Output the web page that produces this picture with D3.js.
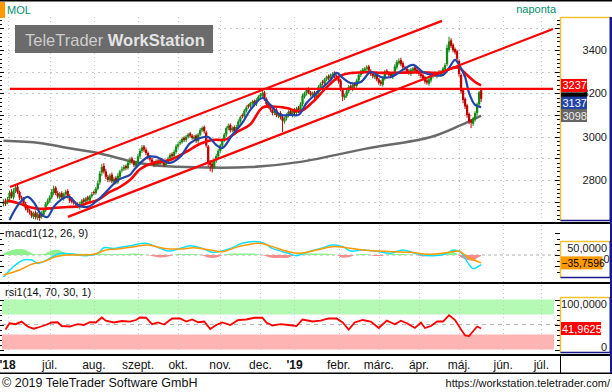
<!DOCTYPE html>
<html><head><meta charset="utf-8"><title>MOL</title>
<script src="https://cdn.jsdelivr.net/npm/d3@7/dist/d3.min.js"></script>
<style>html,body{margin:0;padding:0;background:#fff;}svg{display:block;font-family:"Liberation Sans",Arial,Helvetica,sans-serif;}</style>
</head><body>
<svg id="chart" width="612" height="392"></svg>
<script>
// ---------------- DATA ----------------
const symbol = "MOL";
const period = "naponta";
const holidays = ["2018-08-20","2018-10-22","2018-10-23","2018-11-01","2018-11-02","2018-12-24","2018-12-25","2018-12-26","2018-12-31","2019-01-01","2019-03-15","2019-04-19","2019-04-22","2019-05-01","2019-06-10"];
const tickLabels = ["'18","júl.","aug.","szept.","okt.","nov.","dec.","'19","febr.","márc.","ápr.","máj.","jún.","júl."];
const priceLabels = [2800,3000,3200,3400];
const gridPrices = [2700,2800,2900,3000,3100,3200,3300,3400,3500];

const open = [
2690,2705,2695,2715,2745,2720,2750,2770,2745,2720,
2715,2690,2675,2660,2650,2630,2650,2625,2645,2630,
2640,2660,2690,2705,2720,2740,2765,2740,2720,2740,
2715,2735,2750,2725,2710,2700,2695,2690,2675,2690,
2710,2700,2720,2705,2725,2745,2740,2760,2790,2835,
2865,2840,2815,2800,2825,2790,2810,2790,2815,2845,
2850,2865,2855,2880,2900,2885,2865,2880,2910,2935,
2955,2940,2925,2905,2895,2880,2870,2890,2875,2895,
2880,2870,2885,2900,2920,2910,2930,2955,2970,2975,
2995,2985,3000,3015,3005,2990,3005,2980,3010,3030,
3045,3020,2955,2885,2875,2860,2890,2910,2935,2960,
2985,3010,3040,3055,3030,3045,3025,3045,3070,3100,
3095,3120,3145,3140,3155,3165,3150,3170,3185,3190,
3205,3175,3155,3140,3125,3110,3125,3095,3110,3090,
3070,3085,3100,3120,3100,3125,3110,3135,3120,3150,
3185,3200,3220,3205,3190,3205,3180,3205,3230,3255,
3245,3265,3280,3265,3285,3295,3280,3270,3260,3215,
3180,3190,3210,3235,3220,3245,3235,3260,3285,3300,
3305,3315,3325,3305,3290,3275,3285,3265,3255,3240,
3270,3305,3295,3290,3275,3290,3320,3340,3355,3340,
3320,3315,3305,3290,3305,3320,3310,3300,3290,3285,
3275,3260,3245,3260,3280,3295,3280,3300,3285,3295,
3310,3335,3400,3445,3425,3405,3395,3350,3285,3215,
3175,3145,3105,3075,3060,3080,3110,3150,3215];
const high = [
2712,2715,2722,2752,2758,2762,2780,2778,2752,2728,
2722,2700,2684,2668,2658,2655,2660,2652,2652,2656,
2668,2698,2715,2730,2758,2775,2772,2750,2745,2748,
2742,2755,2758,2735,2718,2708,2702,2698,2700,2712,
2718,2722,2728,2732,2745,2752,2768,2798,2842,2875,
2878,2852,2825,2830,2835,2815,2818,2832,2848,2862,
2870,2872,2888,2905,2908,2892,2888,2920,2945,2962,
2962,2950,2932,2915,2902,2888,2895,2898,2900,2902,
2888,2892,2908,2925,2928,2940,2965,2975,2985,2998,
3002,3008,3018,3022,3012,3008,3012,3018,3040,3048,
3052,3028,2962,2892,2885,2898,2920,2945,2968,2995,
3018,3048,3060,3062,3048,3052,3055,3080,3098,3108,
3128,3145,3152,3162,3170,3172,3178,3192,3202,3212,
3212,3182,3162,3148,3132,3128,3132,3112,3118,3098,
3092,3108,3122,3128,3128,3132,3138,3142,3160,3198,
3208,3225,3228,3212,3208,3212,3212,3238,3252,3262,
3272,3282,3288,3292,3298,3302,3288,3278,3268,3222,
3198,3218,3238,3242,3248,3252,3268,3292,3308,3318,
3322,3330,3332,3312,3298,3292,3292,3272,3262,3278,
3308,3312,3302,3298,3298,3335,3355,3362,3365,3348,
3328,3322,3312,3318,3322,3328,3318,3308,3298,3292,
3282,3268,3272,3288,3298,3302,3302,3308,3308,3322,
3340,3425,3462,3455,3432,3412,3402,3358,3292,3222,
3182,3152,3112,3082,3092,3118,3158,3212,3222];
const low = [
2678,2680,2688,2705,2715,2710,2740,2735,2708,2702,
2680,2660,2650,2640,2625,2620,2618,2615,2612,2622,
2632,2652,2682,2695,2712,2730,2730,2715,2712,2710,
2705,2728,2715,2695,2692,2686,2680,2670,2665,2682,
2690,2692,2700,2696,2716,2730,2732,2752,2778,2820,
2830,2805,2790,2790,2785,2780,2780,2782,2808,2835,
2842,2845,2848,2870,2875,2860,2856,2872,2900,2925,
2930,2915,2895,2885,2870,2860,2862,2866,2866,2872,
2860,2862,2876,2892,2900,2902,2922,2946,2962,2968,
2976,2976,2992,2996,2986,2982,2972,2972,3002,3022,
3015,2950,2860,2840,2835,2850,2880,2900,2926,2950,
2976,3000,3030,3020,3020,3015,3015,3036,3062,3085,
3086,3112,3130,3132,3146,3140,3142,3162,3176,3182,
3165,3140,3130,3115,3100,3100,3090,3086,3080,3022,
3060,3075,3090,3095,3090,3100,3100,3110,3110,3140,
3176,3190,3196,3186,3180,3176,3170,3196,3220,3236,
3236,3256,3260,3256,3276,3270,3260,3245,3210,3165,
3170,3180,3200,3215,3210,3225,3226,3250,3276,3290,
3296,3305,3296,3280,3270,3266,3256,3240,3235,3232,
3260,3286,3276,3270,3266,3282,3310,3332,3326,3310,
3306,3290,3286,3280,3296,3296,3290,3280,3270,3260,
3245,3240,3236,3250,3270,3276,3270,3280,3276,3286,
3300,3325,3390,3410,3390,3380,3350,3278,3198,3155,
3128,3088,3058,3040,3050,3070,3100,3140,3160];
const close = [
2700,2690,2710,2740,2725,2750,2765,2745,2720,2715,
2690,2670,2660,2650,2635,2645,2630,2640,2625,2645,
2660,2690,2705,2720,2745,2760,2740,2725,2735,2720,
2735,2745,2725,2705,2700,2695,2690,2680,2690,2705,
2700,2715,2710,2725,2735,2740,2760,2785,2830,2860,
2840,2815,2800,2820,2795,2805,2790,2820,2840,2850,
2860,2855,2880,2895,2885,2870,2880,2910,2935,2950,
2940,2925,2905,2895,2880,2870,2885,2875,2890,2880,
2870,2885,2900,2915,2910,2930,2955,2965,2975,2990,
2985,3000,3010,3005,2995,3000,2980,3010,3030,3040,
3025,2960,2880,2870,2860,2890,2910,2935,2960,2985,
3010,3040,3050,3030,3040,3025,3045,3070,3090,3095,
3120,3135,3140,3155,3160,3150,3170,3185,3195,3200,
3175,3150,3140,3125,3110,3120,3100,3105,3090,3075,
3085,3100,3115,3105,3120,3110,3130,3120,3150,3190,
3200,3215,3205,3195,3200,3185,3205,3230,3245,3250,
3265,3275,3270,3285,3290,3280,3270,3255,3220,3185,
3190,3210,3230,3225,3240,3235,3260,3285,3300,3310,
3315,3320,3305,3290,3280,3285,3265,3250,3245,3270,
3300,3295,3285,3280,3290,3325,3345,3350,3335,3320,
3315,3300,3295,3310,3315,3305,3300,3290,3280,3270,
3255,3250,3265,3280,3290,3285,3295,3290,3300,3315,
3330,3410,3440,3420,3400,3390,3360,3290,3210,3170,
3140,3100,3070,3065,3085,3110,3150,3205,3175];

// moving averages (by trading-day index)
const redMaIdx = [2,7,12,18,25,32,37,42,47,53,58,63,68,74,83,91,98,104,111,116,123,129,134,141,148,154,161,168,174,183,188,198,208,218,224,227,231,235,238];
const redMaVal = [2705,2694,2678,2667,2671,2676,2678,2694,2708,2745,2768,2800,2850,2878,2893,2930,2968,2985,2988,3020,3058,3135,3140,3133,3118,3160,3228,3282,3295,3298,3295,3296,3298,3296,3318,3318,3285,3253,3237];
const blueMaIdx = [3,8,12,15,19,22,25,30,33,37,42,47,52,57,63,65,72,76,83,88,93,98,102,106,109,114,119,123,129,133,138,143,147,151,156,163,166,169,173,178,183,188,193,199,204,209,214,219,222,225,227,230,232,235,238];
const blueMaVal = [2616,2694,2722,2699,2639,2630,2676,2717,2722,2685,2676,2708,2754,2800,2824,2847,2907,2907,2879,2907,2971,2994,2999,2962,2948,3008,3064,3124,3179,3147,3101,3101,3101,3156,3202,3262,3295,3272,3248,3253,3299,3276,3276,3309,3332,3299,3285,3285,3318,3355,3332,3276,3202,3147,3137];
const grayMaIdx = [0,18,32,47,63,74,91,123,148,180,213,227,238];
const grayMaVal = [2981,2971,2948,2925,2888,2870,2860,2860,2884,2944,2999,3050,3098];

// drawn trend lines [index, price]
const upperChannel = [[3.2,2768],[218.5,3535]];
const lowerChannel = [[32.1,2630],[273.8,3498]];
const levelLine = [[3.2,3221],[273.8,3221]];

// MACD (12,26,9)
const macdIdx = [0,6,10,14,17,20,26,29,35,41,47,50,55,63,71,76,82,88,93,99,104,107,113,119,125,130,134,142,146,152,158,164,169,173,179,185,193,199,205,212,220,224,228,231,234,238];
const macdVal = [-100,-45,-23,-23,-38,-30,0,8,3,-3,8,33,30,42,53,38,18,30,42,30,12,15,30,53,61,53,30,8,-3,15,30,45,38,18,23,18,8,23,8,-3,3,23,12,-30,-61,-44];
const sigIdx = [0,8,14,20,26,31,37,45,51,57,65,72,80,88,95,103,109,117,127,134,142,148,156,164,171,179,187,195,203,212,222,227,231,238];
const sigVal = [-91,-68,-42,-30,-8,0,0,3,23,27,38,45,30,27,33,23,15,38,53,38,15,8,23,38,33,23,18,15,12,3,12,18,-8,-35.7596];
const histIdx = [0,3,6,9,12,15,18,21,24,27,30,33,36,40,44,48,52,56,60,64,68,72,75,78,81,84,87,90,94,98,101,104,107,110,114,118,122,126,129,132,135,138,141,144,147,151,155,159,163,166,169,172,175,178,182,185,188,191,195,199,203,206,209,212,215,218,221,224,226,228,231,234,236,238];
const histVal = [8,18,26,27,18,4,2,8,22,24,12,5,7,4,5,7,5,4,5,7,5,0,-7,-11,-9,-2,4,5,5,2,-9,-14,-9,2,7,7,7,5,0,-9,-14,-12,-14,-5,2,7,7,7,5,0,-12,-10,0,4,2,-5,-5,2,4,4,2,0,-7,-5,0,7,14,14,5,-10,-22,-26,-14,-5];
const macdTicks = [0,50];

// RSI (14,70,30,1)
const rsiIdx = [1,3,6,9,12,15,18,21,24,27,29,33,37,40,43,46,49,51,55,59,63,66,68,71,74,77,80,84,88,91,94,97,100,103,106,109,113,117,121,125,129,131,134,138,142,146,149,154,158,162,166,169,172,175,179,183,187,191,195,198,201,205,208,210,213,216,219,222,225,228,230,232,234,236,238];
const rsiVal = [40,52.6,50.6,55.8,46,41.6,45,49,54,54.5,47,46,50.6,49,54.5,54,64,57.7,54,57,55.8,59,64,63.5,50.6,54,50,62,62,55.8,60,54.5,56,41,49,54,49,59,60,63.5,63.5,54,48,50.6,49,47,60,56,57.7,62,62,54,40,54,59,56,43,57.7,50.6,57.7,52.6,43,54,43,47,56,56,68.7,59,40,28,26.8,36.5,46,41.9625];
const rsiTicks = [0,100];
const rsiBands = [[70,100],[0,30]];

// ---------------- LAYOUT ----------------
const svg = d3.select("#chart");
const defs = svg.append("defs");
function clip(id,x,y,w,h){defs.append("clipPath").attr("id",id).append("rect").attr("x",x).attr("y",y).attr("width",w).attr("height",h);}
const loc = d3.formatLocale({decimal:",",thousands:"",grouping:[3],currency:["",""]});
const f4 = loc.format(".4f"), f0 = loc.format("d");

const PL=2, PR=558;
const AX=560.5, AR=610.5;
const MT=17, MB=221;
const MAC_T=225, MAC_B=282, MBOX_T=241, MBOX_B=278;
const RSI_T=285, RSI_B=353, RBOX_T=297, RBOX_B=353;
const GRID="#c6c6c6";
const FONT=11;

// trading-day calendar
const days=[];
{ const d=new Date(Date.UTC(2018,4,30)); const end=Date.UTC(2019,6,31);
  while(d.getTime()<=end){ const wd=d.getUTCDay(); const s=d.toISOString().slice(0,10);
    if(wd!==0&&wd!==6&&!holidays.includes(s)) days.push(new Date(d.getTime()));
    d.setUTCDate(d.getUTCDate()+1);} }
const x = d3.scaleLinear().domain([-0.75,276.3]).range([PL,PR]);
const monthStarts=[]; for(let i=1;i<days.length;i++){ if(days[i].getUTCMonth()!==days[i-1].getUTCMonth() && x(i)<=PR) monthStarts.push(i); }

const y = d3.scaleLinear().domain([2611,3553]).range([MB,MT]);
const yM = d3.scaleLinear().domain([-100,100]).range([277,233]);
const yR = d3.scaleLinear().domain([0,100]).range([349.5,299.5]);

svg.append("rect").attr("width",612).attr("height",392).attr("fill","#fff");

clip("cMain",PL,MT,PR-PL,MB-MT);
clip("cMacd",PL,MAC_T,PR-PL,MAC_B-MAC_T);
clip("cRsi",PL,RSI_T,PR-PL,RSI_B-RSI_T);
clip("cHpos",PL,MAC_T,PR-PL,yM(0)-MAC_T);
clip("cHneg",PL,yM(0),PR-PL,MAC_B-yM(0));

function vgrid(g,top,bot){
  monthStarts.forEach(i=>g.append("line").attr("x1",Math.round(x(i))+0.5).attr("x2",Math.round(x(i))+0.5)
    .attr("y1",top).attr("y2",bot).attr("stroke",GRID).attr("stroke-dasharray","1,3"));
}
function ticks(g,scale,vals,major,xr){
  vals.forEach(v=>{const yy=Math.round(scale(v))+0.5; const len=major(v)?5:3;
    g.append("line").attr("x1",xr-len).attr("x2",xr).attr("y1",yy).attr("y2",yy).attr("stroke","#000");
    g.append("line").attr("x1",0).attr("x2",len-1).attr("y1",yy).attr("y2",yy).attr("stroke","#000");});
}
function axisBox(top,bot){
  const g=svg.append("g");
  g.append("line").attr("x1",AX).attr("x2",AX).attr("y1",top).attr("y2",bot).attr("stroke","#f2c232").attr("stroke-width",1.5);
  g.append("line").attr("x1",AX).attr("x2",AR).attr("y1",top+0.5).attr("y2",top+0.5).attr("stroke","#f2c232").attr("stroke-width",1.5);
  g.append("line").attr("x1",AR).attr("x2",AR).attr("y1",top).attr("y2",bot).attr("stroke","#1a1a8c").attr("stroke-width",2);
  g.append("line").attr("x1",AX).attr("x2",AR).attr("y1",bot-0.5).attr("y2",bot-0.5).attr("stroke","#1a1a8c").attr("stroke-width",1.5);
  return g;
}
function valBox(yc,fill,txt,tcol,w){
  svg.append("rect").attr("x",AX+0.5).attr("y",yc-6.5).attr("width",w).attr("height",13).attr("fill",fill);
  if(txt) svg.append("text").attr("x",AX+2).attr("y",yc+4).attr("font-size",FONT).attr("fill",tcol).text(txt);
}

// ---------------- MAIN PANEL ----------------
const gm = svg.append("g");
gridPrices.forEach(p=>gm.append("line").attr("x1",PL).attr("x2",PR).attr("y1",Math.round(y(p))+0.5).attr("y2",Math.round(y(p))+0.5)
  .attr("stroke",GRID).attr("stroke-dasharray","2,4"));
vgrid(gm,MT,MB);

// watermark
gm.append("rect").attr("x",15).attr("y",25).attr("width",198).attr("height",28).attr("fill","#6b6b6b");
const wm = gm.append("text").attr("x",25).attr("y",45.5).attr("font-size",16.5);
wm.append("tspan").attr("fill","#cdcdcd").text("TeleTrader ");
wm.append("tspan").attr("fill","#e4e4e4").attr("font-weight","bold").text("WorkStation");

const gp = svg.append("g").attr("clip-path","url(#cMain)");
const lineIdx = d3.line().x(d=>x(d[0])).y(d=>y(d[1]));
const maLine = d3.line().x(d=>x(d[0])).y(d=>y(d[1])).curve(d3.curveCatmullRom.alpha(0.5));
const zip=(a,b)=>a.map((v,i)=>[v,b[i]]);

gp.append("path").attr("d",maLine(zip(grayMaIdx,grayMaVal))).attr("fill","none").attr("stroke","#6a6a6a").attr("stroke-width",2.5);

// candles
const GREEN="#128c12", RED="#c20000";
close.forEach((c,i)=>{
  const o=open[i], col = c>=o?GREEN:RED, cx=x(i);
  gp.append("line").attr("x1",cx).attr("x2",cx).attr("y1",y(high[i])).attr("y2",y(low[i])).attr("stroke",col).attr("stroke-width",1);
  const t=y(Math.max(o,c)), b=y(Math.min(o,c));
  gp.append("rect").attr("x",cx-1.15).attr("y",t).attr("width",2.3).attr("height",Math.max(1.2,b-t)).attr("fill",col);
});

gp.append("path").attr("d",maLine(zip(redMaIdx,redMaVal))).attr("fill","none").attr("stroke","#ff0000").attr("stroke-width",2.6);
gp.append("path").attr("d",maLine(zip(blueMaIdx,blueMaVal))).attr("fill","none").attr("stroke","#2244a8").attr("stroke-width",2.2);
[upperChannel,lowerChannel,levelLine].forEach(l=>gp.append("path").attr("d",lineIdx(l)).attr("fill","none").attr("stroke","#ff0000").attr("stroke-width",2.2));

// main axis
const gt = svg.append("g");
ticks(gt,y,d3.range(2620,3560,20),v=>v%100===0,PR+2);
axisBox(MT,MB);
priceLabels.forEach(p=>svg.append("text").attr("x",607).attr("y",y(p)+4).attr("text-anchor","end").attr("font-size",FONT).attr("fill","#1a1a1a").text(f0(p)));

// value boxes (last close box is hidden behind the others, only its edge shows)
const lastClose = close[close.length-1];
valBox(y(lastClose),"#000",null,"#fff",26);
valBox(y(blueMaVal[blueMaVal.length-1])-4,"#2244a8",f0(blueMaVal[blueMaVal.length-1]),"#fff",26);
valBox(y(grayMaVal[grayMaVal.length-1]),"#666666",f0(grayMaVal[grayMaVal.length-1]),"#eeeeee",26);
valBox(y(redMaVal[redMaVal.length-1]),"#ff0000",f0(redMaVal[redMaVal.length-1]),"#fff",26);

// header
svg.append("rect").attr("x",0).attr("y",0).attr("width",612).attr("height",1.5).attr("fill","#000");
svg.append("rect").attr("x",0).attr("y",2).attr("width",5).attr("height",16).attr("fill","#ff9900");
svg.append("text").attr("x",7).attr("y",14).attr("font-size",FONT).attr("fill","#00906e").text(symbol);
svg.append("text").attr("x",556).attr("y",13).attr("text-anchor","end").attr("font-size",FONT).attr("fill","#00906e").text(period);

// separators
[[222,2],[282,2],[354,2],[372.5,1.5]].forEach(s=>svg.append("rect").attr("x",0).attr("y",s[0]).attr("width",612).attr("height",s[1]).attr("fill","#000"));

// ---------------- MACD PANEL ----------------
const gmc = svg.append("g");
vgrid(gmc,MAC_T,MAC_B);
gmc.append("line").attr("x1",PL).attr("x2",PR).attr("y1",yM(0)).attr("y2",yM(0)).attr("stroke","#b0b0b0").attr("stroke-dasharray","3,3");
svg.append("text").attr("x",5).attr("y",237).attr("font-size",FONT).attr("fill","#111").text("macd1(12, 26, 9)");
const gmp = svg.append("g").attr("clip-path","url(#cMacd)");
const histArea = d3.area().x(d=>x(d[0])).y0(yM(0)).y1(d=>yM(d[1])).curve(d3.curveMonotoneX);
const hd = zip(histIdx,histVal);
gmp.append("path").attr("d",histArea(hd)).attr("fill","#8ef08e").attr("clip-path","url(#cHpos)");
gmp.append("path").attr("d",histArea(hd)).attr("fill","#f58c8c").attr("clip-path","url(#cHneg)");
const mLine = d3.line().x(d=>x(d[0])).y(d=>yM(d[1])).curve(d3.curveCatmullRom.alpha(0.5));
gmp.append("path").attr("d",mLine(zip(macdIdx,macdVal))).attr("fill","none").attr("stroke","#10e0ff").attr("stroke-width",1.5);
gmp.append("path").attr("d",mLine(zip(sigIdx,sigVal))).attr("fill","none").attr("stroke","#ff9900").attr("stroke-width",1.5);
const gmt = svg.append("g");
ticks(gmt,yM,d3.range(-75,101,25),v=>v%50===0,PR+2);
axisBox(MBOX_T,MBOX_B);
macdTicks.forEach(v=>{const yc=Math.max(MBOX_T+7,Math.min(MBOX_B-6,yM(v)+4));
  svg.append("text").attr("x",v===0?609.5:607).attr("y",yc+4).attr("text-anchor","end").attr("font-size",FONT).attr("fill","#1a1a1a").text(v===0?"0":f4(v));});
const lastSig = sigVal[sigVal.length-1];
svg.append("rect").attr("x",AX+0.5).attr("y",yM(lastSig)-6.5).attr("width",41.5).attr("height",13).attr("fill","#ff9900");
svg.append("text").attr("x",AX+1).attr("y",yM(lastSig)+4).attr("font-size",10.3).attr("fill","#000").text(f4(lastSig));

// ---------------- RSI PANEL ----------------
const grs = svg.append("g");
rsiBands.forEach((b,k)=>grs.append("rect").attr("x",PL).attr("width",554-PL).attr("y",yR(b[1])).attr("height",yR(b[0])-yR(b[1]))
  .attr("fill",k===0?"#b4fab4":"#ffb4b4"));
vgrid(grs,RSI_T,RSI_B);
grs.append("line").attr("x1",PL).attr("x2",PR).attr("y1",yR(50)).attr("y2",yR(50)).attr("stroke","#b8b8b8").attr("stroke-dasharray","4,4");
svg.append("text").attr("x",5).attr("y",296).attr("font-size",FONT).attr("fill","#111").text("rsi1(14, 70, 30, 1)");
const grp = svg.append("g").attr("clip-path","url(#cRsi)");
grp.append("path").attr("d",d3.line().x(d=>x(d[0])).y(d=>yR(d[1]))(zip(rsiIdx,rsiVal))).attr("fill","none").attr("stroke","#ff0000").attr("stroke-width",1.8);
const grt = svg.append("g");
ticks(grt,yR,d3.range(0,101,10),v=>v%50===0,PR+2);
axisBox(RBOX_T,RBOX_B);
rsiTicks.forEach(v=>{const yc=Math.max(RBOX_T+7,Math.min(RBOX_B-6,yR(v)+4));
  svg.append("text").attr("x",607).attr("y",yc+4).attr("text-anchor","end").attr("font-size",FONT).attr("fill","#1a1a1a").text(v===0?"0":f4(v));});
const lastRsi = rsiVal[rsiVal.length-1];
svg.append("rect").attr("x",AX+0.5).attr("y",yR(lastRsi)-6.5).attr("width",40).attr("height",13).attr("fill","#ff0000");
svg.append("text").attr("x",AX+1.5).attr("y",yR(lastRsi)+4).attr("font-size",FONT).attr("fill","#fff").text(f4(lastRsi));

// ---------------- DATE AXIS ----------------
svg.append("line").attr("x1",AX).attr("x2",AX).attr("y1",355).attr("y2",373).attr("stroke","#000");
svg.append("line").attr("x1",611).attr("x2",611).attr("y1",MT).attr("y2",373).attr("stroke","#1a1a8c").attr("stroke-width",2);
monthStarts.forEach((i,k)=>{ if(k>=tickLabels.length) return; const lab=tickLabels[k];
  const t=svg.append("text").attr("x",Math.max(x(i),lab.startsWith("'")?7:0)).attr("y",369).attr("text-anchor","middle").attr("font-size",12).attr("fill","#111").text(lab);
  if(lab.startsWith("'")) t.attr("font-weight","bold");});

// ---------------- FOOTER ----------------
svg.append("text").attr("x",2).attr("y",387).attr("font-size",12.5).attr("fill","#111").text("© 2019 TeleTrader Software GmbH");
svg.append("text").attr("x",610).attr("y",387).attr("text-anchor","end").attr("font-size",11).attr("fill","#111").text("https://workstation.teletrader.com/");
</script>
</body></html>
